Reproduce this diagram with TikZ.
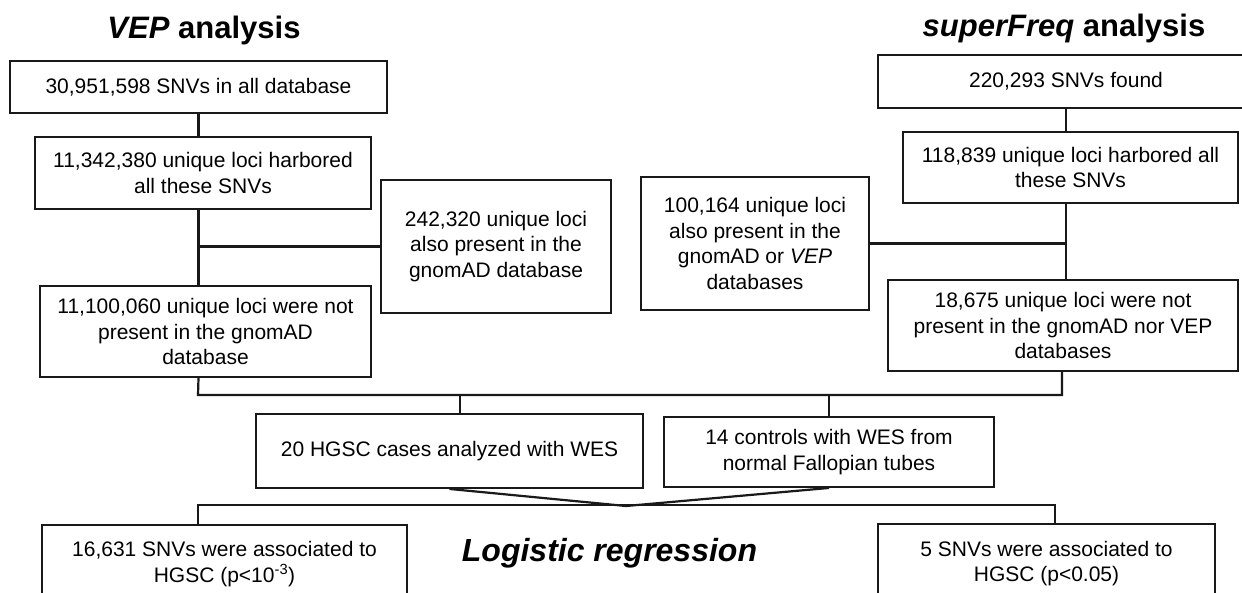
\documentclass[tikz,border=0pt]{standalone}
\usepackage{fontspec}
\setmainfont{Liberation Sans}
\newfontfamily\bodyf{Liberation Sans}
\newfontfamily\titlef{Liberation Sans}
\usetikzlibrary{calc}
\begin{document}
\begin{tikzpicture}[x=1pt,y=-1pt,
 box/.style={draw=black!90, line width=1.9pt, align=center, inner sep=0pt, font=\bodyf\fontsize{21}{25.5}\selectfont},
 conn/.style={draw=black!90, line width=2.2pt},
 ttl/.style={font=\titlef\bfseries\fontsize{31}{33}\selectfont, anchor=base, inner sep=0pt}]
\useasboundingbox (0,0) rectangle (1242,592);
\clip (0,0) rectangle (1242,592);
\fill[white] (0,0) rectangle (1242,592);

\node[ttl] (t1) at (204,38.5) {\itshape VEP\upshape{} analysis};
\node[ttl] (t2) at (1064,36) {\itshape superFreq\upshape{} analysis};

\node[box, minimum width=377pt, minimum height=52pt] (A1) at (198.5,87) {30,951,598 SNVs in all database};
\node[box, minimum width=336pt, minimum height=72pt] (A2) at (203,173) {11,342,380 unique loci harbored\\all these SNVs};
\node[box, minimum width=230pt, minimum height=133pt] (A3) at (496,246.5) {242,320 unique loci\\also present in the\\gnomAD database};
\node[box, minimum width=331pt, minimum height=91pt] (A4) at (205.5,331.5) {11,100,060 unique loci were not\\present in the gnomAD\\database};

\node[box, minimum width=376pt, minimum height=53pt] (B1) at (1066,81.5) {220,293 SNVs found};
\node[box, minimum width=335pt, minimum height=71pt] (B2) at (1070.5,167.5) {118,839 unique loci harbored all\\these SNVs};
\node[box, minimum width=228pt, minimum height=133pt] (B3) at (755,243.5) {100,164 unique loci\\also present in the\\gnomAD or \textit{VEP}\\databases};
\node[box, minimum width=350pt, minimum height=91pt] (B4) at (1063,325.5) {18,675 unique loci were not\\present in the gnomAD nor VEP\\databases};

\node[box, minimum width=387pt, minimum height=74pt] (C1) at (449.5,451) {20 HGSC cases analyzed with WES};
\node[box, minimum width=330pt, minimum height=70pt] (C2) at (829,452) {14 controls with WES from\\normal Fallopian tubes};

\node[box, minimum width=365pt, minimum height=78pt] (D1) at (224.5,564) {16,631 SNVs were associated to\\HGSC (p<10\textsuperscript{-3})};
\node[box, minimum width=337pt, minimum height=79pt] (D2) at (1046.5,563.5) {5 SNVs were associated to\\HGSC (p<0.05)};
\node[font=\bfseries\itshape\fontsize{32}{34}\selectfont, anchor=base, inner sep=0pt] (LR) at (609.5,561) {Logistic regression};

\coordinate (jL) at (198,395);
\coordinate (jR) at (1062,395);
\coordinate (m) at (626,506);
\coordinate (hL) at (198,505);
\coordinate (hR) at (1055,505);
\coordinate (c1t) at (460,414);

\draw[conn] (A1.south) -- (A1.south |- A2.north);
\draw[conn] (A1.south |- A2.south) -- (A1.south |- A4.north);
\draw[conn] (A1.south |- A3.west) -- (A3.west);
\draw[conn] (B1.south) -- (B1.south |- B2.north);
\draw[conn] (B1.south |- B2.south) -- (B1.south |- B4.north);
\draw[conn] (B3.east) -- (B1.south |- B3.east);
\draw[conn] (A1.south |- A4.south) -- (jL) -- (jR) -- (jR |- B4.south);
\draw[conn] (jL -| C2.north) -- (C2.north);
\draw[conn] (c1t |- jL) -- (c1t);
\draw[conn] (C1.south) -- (m) -- (C2.south);
\draw[conn] (hL |- D1.north) -- (hL) -- (hR) -- (hR |- D2.north);
\end{tikzpicture}
\end{document}
